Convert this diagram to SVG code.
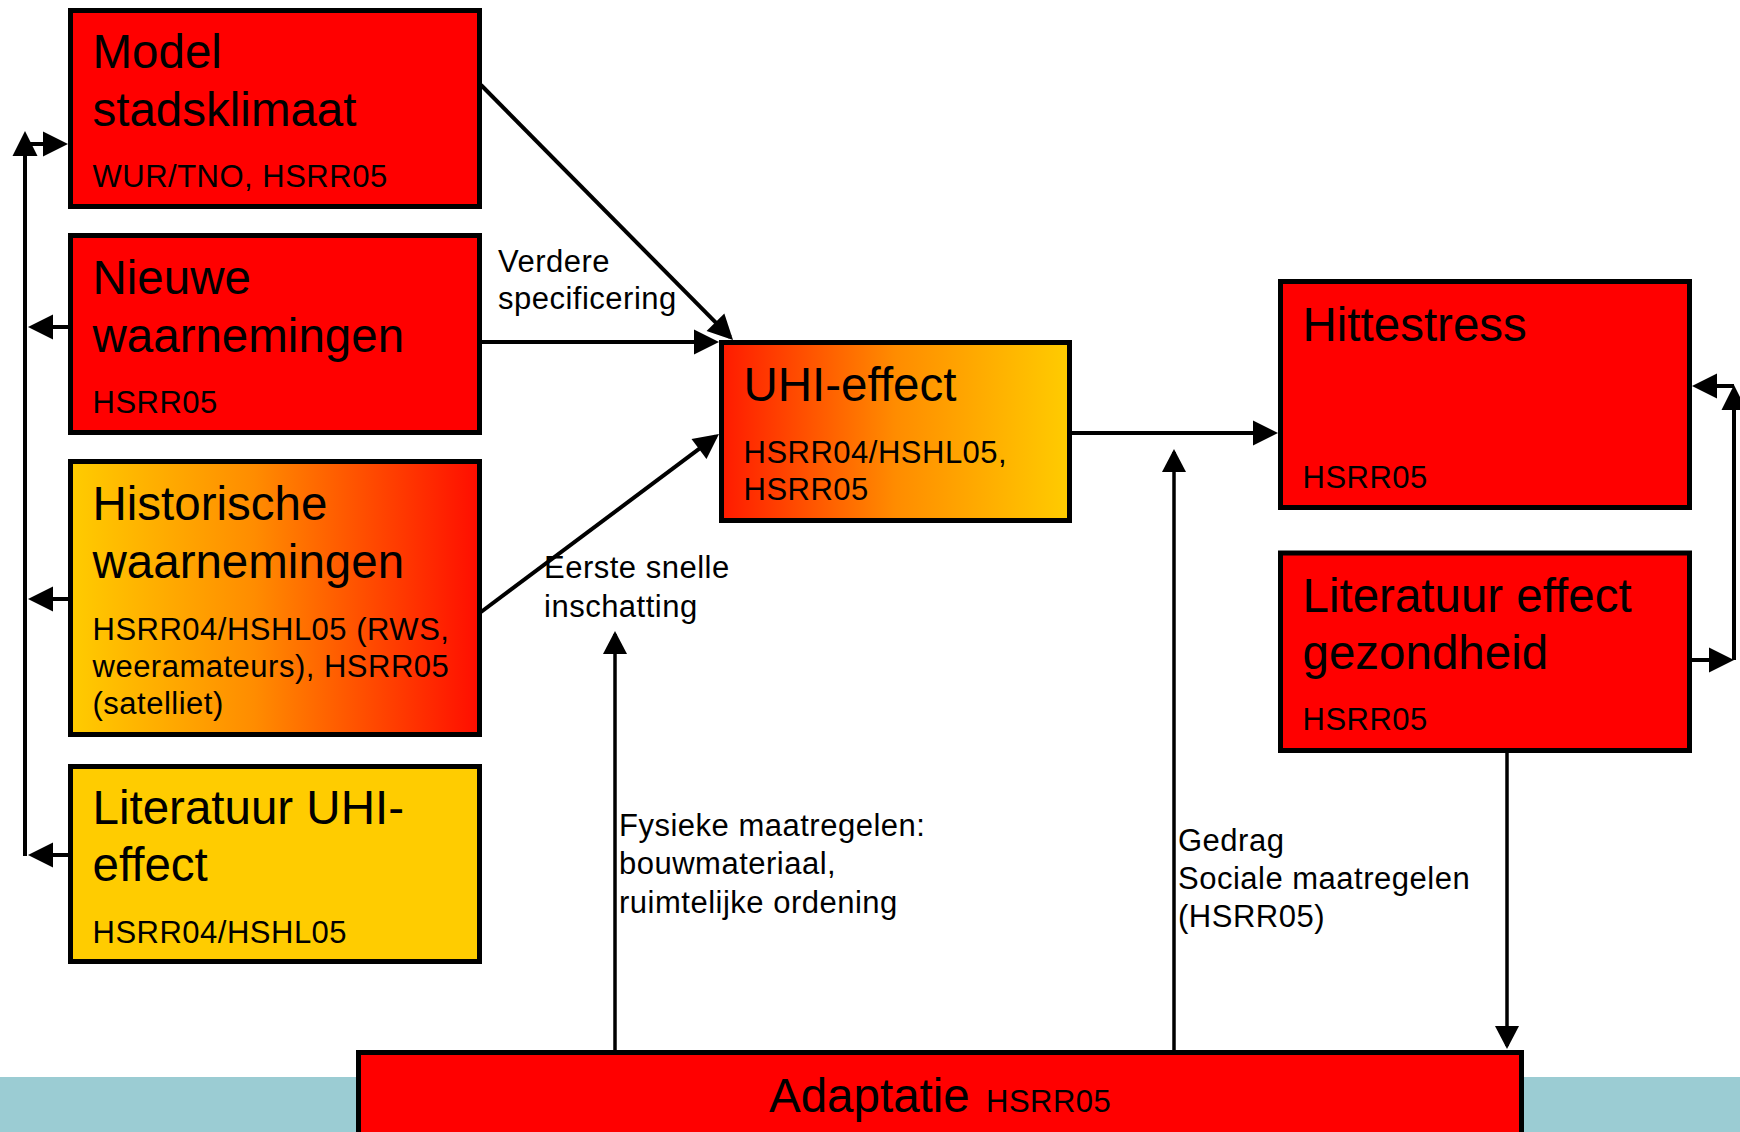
<svg xmlns="http://www.w3.org/2000/svg" width="1740" height="1132" viewBox="0 0 1740 1132">
<style>
.box{stroke:#000;stroke-width:5}
.red{fill:#FF0000}
.yel{fill:#FFCC00}
.t{font-family:"Liberation Sans",Arial,sans-serif;font-size:47.5px;fill:#000}
.s{font-family:"Liberation Sans",Arial,sans-serif;font-size:31px;letter-spacing:0.5px;fill:#000}
.c{fill:none;stroke:#000;stroke-width:4}
.cs{fill:none;stroke:#000;stroke-width:3.5}
</style>
<defs>
<linearGradient id="gYR" x1="0" y1="0" x2="1" y2="0">
<stop offset="0" stop-color="#FFCC00"/>
<stop offset="0.45" stop-color="#FF8C00"/>
<stop offset="1" stop-color="#FF0D00"/>
</linearGradient>
<linearGradient id="gRY" x1="0" y1="0" x2="1" y2="0">
<stop offset="0" stop-color="#FF1A00"/>
<stop offset="0.5" stop-color="#FF8C00"/>
<stop offset="1" stop-color="#FFCC00"/>
</linearGradient>
<marker id="ah" markerUnits="userSpaceOnUse" markerWidth="26" markerHeight="26" refX="21" refY="12.5" orient="auto" overflow="visible">
<path d="M0,0 L25,12.5 L0,25 z" fill="#000"/>
</marker>
<marker id="ahs" markerUnits="userSpaceOnUse" markerWidth="24" markerHeight="24" refX="20" refY="12" orient="auto" overflow="visible">
<path d="M0,0 L23,12 L0,24 z" fill="#000"/>
</marker>
</defs>
<rect x="0" y="0" width="1740" height="1132" fill="#FFFFFF"/>
<rect x="0" y="1077" width="1740" height="55" fill="#9BCCD3"/>

<g id="connectors">
<line class="c" x1="481" y1="85" x2="730.2" y2="337.2" marker-end="url(#ah)"/>
<line class="c" x1="481" y1="342" x2="715" y2="342" marker-end="url(#ah)"/>
<line class="c" x1="481" y1="612" x2="715.8" y2="436.4" marker-end="url(#ah)"/>
<line class="c" x1="1072" y1="433" x2="1274" y2="433" marker-end="url(#ah)"/>
<line class="cs" x1="615" y1="1051" x2="615" y2="634" marker-end="url(#ahs)"/>
<line class="cs" x1="1174" y1="1051" x2="1174" y2="452" marker-end="url(#ahs)"/>
<line class="cs" x1="1507" y1="753" x2="1507" y2="1046" marker-end="url(#ahs)"/>
<line class="c" x1="25" y1="856" x2="25" y2="135" marker-end="url(#ah)"/>
<line class="c" x1="25" y1="144" x2="64" y2="144" marker-end="url(#ah)"/>
<line class="c" x1="68" y1="327" x2="32" y2="327" marker-end="url(#ah)"/>
<line class="c" x1="68" y1="599" x2="32" y2="599" marker-end="url(#ah)"/>
<line class="c" x1="68" y1="855" x2="32" y2="855" marker-end="url(#ah)"/>
<line class="c" x1="1734" y1="660" x2="1734" y2="389" marker-end="url(#ah)"/>
<line class="c" x1="1692" y1="660" x2="1730" y2="660" marker-end="url(#ah)"/>
<line class="c" x1="1734" y1="386" x2="1696" y2="386" marker-end="url(#ah)"/>
</g>

<g id="labels">
<text class="s" x="498" y="272">Verdere</text>
<text class="s" x="498" y="309">specificering</text>
<text class="s" x="544" y="578">Eerste snelle</text>
<text class="s" x="544" y="616.5">inschatting</text>
<text class="s" x="619" y="836">Fysieke maatregelen:</text>
<text class="s" x="619" y="874">bouwmateriaal,</text>
<text class="s" x="619" y="912.5">ruimtelijke ordening</text>
<text class="s" x="1178" y="850.5">Gedrag</text>
<text class="s" x="1178" y="889">Sociale maatregelen</text>
<text class="s" x="1178" y="927">(HSRR05)</text>
</g>

<g id="model-stadsklimaat">
<rect class="box red" x="70.5" y="10.5" width="409" height="196"/>
<text class="t" x="92.5" y="67.5">Model</text>
<text class="t" x="92.5" y="126">stadsklimaat</text>
<text class="s" x="92.5" y="186.5">WUR/TNO, HSRR05</text>
</g>

<g id="nieuwe-waarnemingen">
<rect class="box red" x="70.5" y="235.5" width="409" height="197"/>
<text class="t" x="92.5" y="293.5">Nieuwe</text>
<text class="t" x="92.5" y="351.5">waarnemingen</text>
<text class="s" x="92.5" y="412.5">HSRR05</text>
</g>

<g id="historische-waarnemingen">
<rect class="box" fill="url(#gYR)" x="70.5" y="461.5" width="409" height="273"/>
<text class="t" x="92.5" y="520">Historische</text>
<text class="t" x="92.5" y="577.5">waarnemingen</text>
<text class="s" x="92.5" y="639.5">HSRR04/HSHL05 (RWS,</text>
<text class="s" x="92.5" y="676.5">weeramateurs), HSRR05</text>
<text class="s" x="92.5" y="713.5">(satelliet)</text>
</g>

<g id="literatuur-uhi-effect">
<rect class="box yel" x="70.5" y="766.5" width="409" height="195"/>
<text class="t" x="92.5" y="824">Literatuur UHI-</text>
<text class="t" x="92.5" y="881">effect</text>
<text class="s" x="92.5" y="943">HSRR04/HSHL05</text>
</g>

<g id="uhi-effect">
<rect class="box" fill="url(#gRY)" x="721.5" y="342.5" width="348" height="178"/>
<text class="t" x="743.5" y="400.5">UHI-effect</text>
<text class="s" x="743.5" y="462.5">HSRR04/HSHL05,</text>
<text class="s" x="743.5" y="500">HSRR05</text>
</g>

<g id="hittestress">
<rect class="box red" x="1280.5" y="281.5" width="409" height="226"/>
<text class="t" x="1302.5" y="341">Hittestress</text>
<text class="s" x="1302.5" y="488">HSRR05</text>
</g>

<g id="literatuur-effect-gezondheid">
<rect class="box red" x="1280.5" y="553" width="409" height="197.5"/>
<text class="t" x="1302.5" y="611.5">Literatuur effect</text>
<text class="t" x="1302.5" y="668.5">gezondheid</text>
<text class="s" x="1302.5" y="730">HSRR05</text>
</g>

<g id="adaptatie">
<rect class="box red" x="358.5" y="1052.5" width="1163" height="100"/>
<text class="t" x="769" y="1111.5">Adaptatie</text>
<text class="s" x="986" y="1111.5">HSRR05</text>
</g>
</svg>
